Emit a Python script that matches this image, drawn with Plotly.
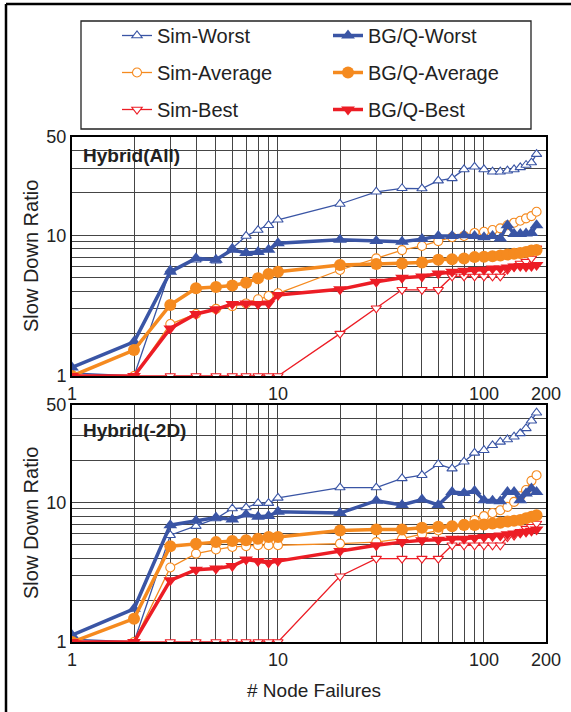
import plotly.graph_objects as go
from plotly.subplots import make_subplots

W, H = 571, 712

failures = [1, 2, 3, 4, 5, 6, 7, 8, 9, 10, 20, 30, 40, 50, 60, 70, 80, 90, 100,
            110, 120, 130, 140, 150, 160, 170, 180]

# Hybrid(All)
sim_worst_all = [1.05, 1.0, 5.67, 6.7, 6.6, 8.1, 9.9, 10.9, 11.8, 12.9, 16.7, 20.4, 21.6, 21.5,
                 24.5, 25.4, 29.4, 30.7, 29.4, 28.3, 28.3, 28.8, 29.4, 30.4, 31.6, 32.9, 37.8]
sim_avg_all = [1.0, 1.0, 2.34, 2.76, 3.0, 3.14, 3.28, 3.51, 3.7, 3.87, 5.67, 6.86, 7.85, 8.4,
               9.1, 9.7, 9.9, 10.4, 10.6, 10.9, 11.2, 11.8, 12.3, 12.7, 13.2, 13.7, 14.7]
sim_best_all = [1, 1, 1, 1, 1, 1, 1, 1, 1, 1, 2.0, 3.03, 4.1, 4.1, 4.1, 5.1, 5.1, 5.1, 5.1,
                5.1, 5.1, 5.7, 6.0, 6.3, 6.5, 6.85, 8.1]
bgq_worst_all = [1.15, 1.75, 5.5, 6.86, 6.7, 7.9, 7.5, 7.6, 7.9, 8.8, 9.3, 9.1, 9.0, 9.4, 9.9,
                 9.9, 10.0, 9.9, 9.7, 9.9, 9.5, 11.8, 10.2, 10.2, 10.3, 10.4, 11.8]
bgq_avg_all = [1.0, 1.53, 3.2, 4.2, 4.3, 4.4, 4.6, 4.95, 5.3, 5.5, 6.15, 6.25, 6.3, 6.4, 6.7,
               6.75, 6.85, 7.0, 7.05, 7.1, 7.2, 7.3, 7.4, 7.5, 7.6, 7.8, 7.85]
bgq_best_all = [1.0, 1.0, 2.18, 2.76, 2.98, 3.25, 3.28, 3.25, 3.28, 3.77, 4.13, 4.68, 5.0, 5.1,
                5.36, 5.5, 5.6, 5.67, 5.7, 5.8, 5.8, 5.9, 6.0, 6.05, 6.0, 6.05, 6.15]

# Hybrid(-2D)
sim_worst_2d = [1.05, 1.0, 5.83, 6.77, 7.67, 9.05, 9.2, 9.9, 9.9, 10.8, 12.8, 12.8, 14.9, 15.7,
                18.8, 17.5, 19.6, 22.7, 23.7, 25.7, 27.2, 28.3, 29.6, 31.3, 34.0, 38.6, 44.0]
sim_avg_2d = [1.0, 1.0, 3.42, 4.3, 4.6, 4.8, 4.86, 4.94, 4.94, 4.94, 5.07, 5.2, 5.5, 5.93, 6.3,
              6.8, 7.0, 7.5, 7.98, 8.4, 8.8, 9.3, 10.1, 11.1, 12.3, 14.3, 15.7]
sim_best_2d = [1, 1, 1, 1, 1, 1, 1, 1, 1, 1, 2.96, 3.96, 3.96, 3.96, 3.96, 4.94, 4.94, 4.94,
               4.94, 4.94, 4.94, 5.66, 5.8, 6.16, 6.5, 6.7, 7.07]
bgq_worst_2d = [1.12, 1.73, 6.88, 7.4, 7.8, 7.55, 8.2, 7.9, 8.0, 8.6, 8.4, 10.3, 9.6, 10.5, 9.6,
                11.9, 11.7, 12.1, 10.4, 10.3, 10.2, 11.9, 11.9, 10.4, 11.6, 12.6, 11.9]
bgq_avg_2d = [1.0, 1.47, 4.86, 5.07, 5.2, 5.3, 5.36, 5.5, 5.66, 5.66, 6.3, 6.4, 6.4, 6.6, 6.7,
              6.75, 6.9, 6.9, 6.95, 7.07, 7.15, 7.3, 7.4, 7.5, 7.7, 7.9, 8.1]
bgq_best_2d = [1.0, 1.0, 2.77, 3.3, 3.36, 3.5, 3.9, 3.8, 3.7, 3.8, 4.5, 4.94, 5.2, 5.36, 5.4,
               5.5, 5.5, 5.6, 5.66, 5.74, 5.8, 5.93, 6.0, 6.06, 6.16, 6.27, 6.4]

panel_titles = ["Hybrid(All)", "Hybrid(-2D)"]
x_tickvals = [1, 2, 3, 4, 5, 6, 7, 8, 9, 10, 20, 30, 40, 50, 60, 70, 80, 90, 100, 200]
x_ticklabels = ["1", "", "", "", "", "", "", "", "", "10", "", "", "", "", "", "", "", "", "100", "200"]
y_tickvals = [1, 2, 3, 4, 5, 6, 7, 8, 9, 10, 20, 30, 40, 50]
y_ticklabels = ["1", "", "", "", "", "", "", "", "", "10", "", "", "", "50"]

BLUE = "#3a55a5"
ORANGE = "#f58a1f"
RED = "#ec1d25"
FONT = "Liberation Sans, Arial, sans-serif"

fig = make_subplots(rows=2, cols=1)

def px_x(p):
    return p / W

def px_y(p):
    return 1 - p / H

panels = [
    (sim_worst_all, sim_avg_all, sim_best_all, bgq_worst_all, bgq_avg_all, bgq_best_all),
    (sim_worst_2d, sim_avg_2d, sim_best_2d, bgq_worst_2d, bgq_avg_2d, bgq_best_2d),
]

names_sim = ["Sim-Worst", "Sim-Average", "Sim-Best"]
names_bgq = ["BG/Q-Worst", "BG/Q-Average", "BG/Q-Best"]
colors = [BLUE, ORANGE, RED]
symbols = ["triangle-up", "circle", "triangle-down"]

for r, data in enumerate(panels, start=1):
    show = r == 1
    for i in range(3):
        fig.add_trace(go.Scatter(
            x=failures, y=data[i], mode="lines+markers", name=names_sim[i],
            legend="legend", legendgroup=names_sim[i], showlegend=show,
            line=dict(color=colors[i], width=1.3),
            marker=dict(symbol=symbols[i], size=9, color="white",
                        line=dict(color=colors[i], width=1.1)),
        ), row=r, col=1)
    for i in range(3):
        fig.add_trace(go.Scatter(
            x=failures, y=data[3 + i], mode="lines+markers", name=names_bgq[i],
            legend="legend2", legendgroup=names_bgq[i], showlegend=show,
            line=dict(color=colors[i], width=3.5),
            marker=dict(symbol=symbols[i], size=12, color=colors[i],
                        line=dict(color=colors[i], width=0)),
        ), row=r, col=1)

axis_common = dict(type="log", showline=True, linecolor="black", linewidth=2, mirror=True,
                   showgrid=True, gridcolor="#454545", gridwidth=1, ticks="",
                   automargin=False, zeroline=False,
                   tickfont=dict(family=FONT, size=18, color="#222"))

dom_x = [px_x(72), px_x(546)]
fig.update_layout(
    xaxis=dict(domain=dom_x, range=[0, 2.30103], tickvals=x_tickvals, ticktext=x_ticklabels,
               anchor="y", **axis_common),
    xaxis2=dict(domain=dom_x, range=[0, 2.30103], tickvals=x_tickvals, ticktext=x_ticklabels,
                anchor="y2", **axis_common),
    yaxis=dict(domain=[px_y(376), px_y(137)], range=[0, 1.69897], tickvals=y_tickvals,
               ticktext=y_ticklabels, anchor="x", **axis_common),
    yaxis2=dict(domain=[px_y(642), px_y(405)], range=[0, 1.69897], tickvals=y_tickvals,
                ticktext=y_ticklabels, anchor="x2", **axis_common),
)

annotations = []
for title, top in zip(panel_titles, [155, 430]):
    annotations.append(dict(text=f"<b>{title}</b>", x=px_x(81), y=px_y(top), xref="paper",
                            yref="paper", xanchor="left", yanchor="middle", showarrow=False,
                            font=dict(family=FONT, size=19, color="#222")))
for center in [256, 523]:
    annotations.append(dict(text="Slow Down Ratio", x=px_x(31), y=px_y(center), xref="paper",
                            yref="paper", xanchor="center", yanchor="middle", showarrow=False,
                            textangle=-90, font=dict(family=FONT, size=20, color="#222")))
annotations.append(dict(text="# Node Failures", x=px_x(314), y=px_y(690), xref="paper",
                        yref="paper", xanchor="center", yanchor="middle", showarrow=False,
                        font=dict(family=FONT, size=19, color="#222")))

shapes = [
    dict(type="rect", xref="paper", yref="paper", x0=px_x(81), x1=px_x(531), y0=px_y(129),
         y1=px_y(21), line=dict(color="#222", width=1.3), fillcolor="rgba(0,0,0,0)"),
    dict(type="line", xref="paper", yref="paper", x0=px_x(6), x1=1, y0=px_y(4), y1=px_y(4),
         line=dict(color="black", width=2.5)),
    dict(type="line", xref="paper", yref="paper", x0=px_x(6), x1=px_x(6), y0=0, y1=px_y(4),
         line=dict(color="black", width=2.5)),
]

legend_common = dict(bgcolor="rgba(0,0,0,0)", borderwidth=0, tracegroupgap=8,
                     font=dict(family=FONT, size=20, color="#222"), orientation="v",
                     xanchor="left", yanchor="top", itemwidth=30)

fig.update_layout(
    width=W, height=H, margin=dict(l=0, r=0, t=0, b=0, autoexpand=False),
    paper_bgcolor="white", plot_bgcolor="white",
    annotations=annotations, shapes=shapes,
    legend=dict(x=px_x(117), y=px_y(16), **legend_common),
    legend2=dict(x=px_x(328), y=px_y(16), **legend_common),
    showlegend=True,
)

fig.write_html(
    "out.html",
    config={"displayModeBar": False},
    post_script="document.body.style.margin='0';document.body.style.overflow='hidden';",
)
